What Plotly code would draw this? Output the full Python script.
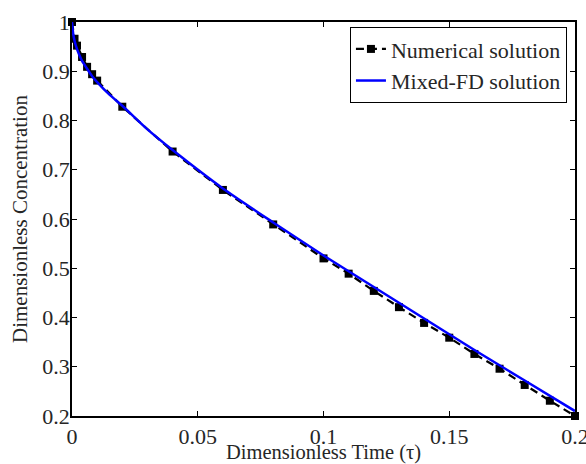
import plotly.graph_objects as go

# Numerical solution (markers)
t_num = [0, 0.001, 0.002, 0.004, 0.006, 0.008, 0.01, 0.02, 0.04, 0.06, 0.08,
         0.10, 0.11, 0.12, 0.13, 0.14, 0.15, 0.16, 0.17, 0.18, 0.19, 0.20]
c_num = [1.0, 0.966, 0.952, 0.929, 0.909, 0.894, 0.881, 0.828, 0.737, 0.659, 0.589,
         0.520, 0.489, 0.454, 0.421, 0.389, 0.359, 0.326, 0.296, 0.263, 0.231, 0.200]

# Mixed-FD solution (line)
t_fd = [0, 0.0005, 0.001, 0.002, 0.003, 0.004, 0.006, 0.008, 0.01, 0.015, 0.02,
        0.03, 0.04, 0.06, 0.08, 0.10, 0.12, 0.14, 0.16, 0.18, 0.20]
c_fd = [1.0, 0.975, 0.962, 0.945, 0.932, 0.921, 0.905, 0.890, 0.878, 0.852, 0.830,
        0.782, 0.740, 0.662, 0.593, 0.526, 0.462, 0.398, 0.334, 0.272, 0.210]

x_ticks = [0, 0.05, 0.1, 0.15, 0.2]
x_labels = ["0", "0.05", "0.1", "0.15", "0.2"]
y_ticks = [0.2, 0.3, 0.4, 0.5, 0.6, 0.7, 0.8, 0.9, 1.0]
y_labels = ["0.2", "0.3", "0.4", "0.5", "0.6", "0.7", "0.8", "0.9", "1"]

FONT = "Liberation Serif, Times New Roman, serif"
TXT = "#262626"
FS = 22

fig = go.Figure()
fig.add_trace(go.Scatter(
    x=t_num, y=c_num, mode="lines+markers", name="Numerical solution",
    line=dict(color="black", width=2.2, dash="8px,5px"),
    marker=dict(symbol="square", size=8, color="black"),
    cliponaxis=False,
))
fig.add_trace(go.Scatter(
    x=t_fd, y=c_fd, mode="lines", name="Mixed-FD solution",
    line=dict(color="#0000ff", width=2.5, shape="spline", smoothing=0.6),
))

axis_common = dict(
    showline=True, linecolor="black", linewidth=1.5, mirror="ticks",
    ticks="inside", ticklen=5, tickwidth=1, tickcolor="black",
    showgrid=False, zeroline=False, ticklabeloverflow="allow", automargin=False,
    tickfont=dict(family=FONT, size=FS, color=TXT),
)

fig.update_layout(
    width=586, height=464,
    margin=dict(l=72, r=11, t=22, b=48, autoexpand=False),
    paper_bgcolor="white", plot_bgcolor="white",
    font=dict(family=FONT, size=FS, color=TXT),
    xaxis=dict(range=[0, 0.2], tickvals=x_ticks, ticktext=x_labels,
               ticklabelstandoff=0, **axis_common),
    yaxis=dict(range=[0.2, 1.0], tickvals=y_ticks, ticktext=y_labels,
               ticklabelstandoff=-4, **axis_common),
    legend=dict(x=0.984, y=0.987, xanchor="right", yanchor="top",
                bgcolor="white", bordercolor="black", borderwidth=1,
                font=dict(family=FONT, size=FS, color=TXT),
                tracegroupgap=0, itemwidth=30),
    showlegend=True,
    annotations=[
        dict(text="Dimensionless Time (τ)", xref="paper", yref="paper",
             x=0.5, y=-0.093, xanchor="center", yanchor="middle",
             showarrow=False, font=dict(family=FONT, size=20.5, color=TXT)),
        dict(text="Dimensionless Concentration", xref="paper", yref="paper",
             x=-0.1034, y=0.5, xanchor="center", yanchor="middle", textangle=-90,
             showarrow=False, font=dict(family=FONT, size=21, color=TXT)),
    ],
)

fig.write_html(
    "out.html",
    config={"displayModeBar": False},
    post_script="document.body.style.margin='0';document.body.style.padding='0';"
                "document.body.style.overflow='hidden';",
)
